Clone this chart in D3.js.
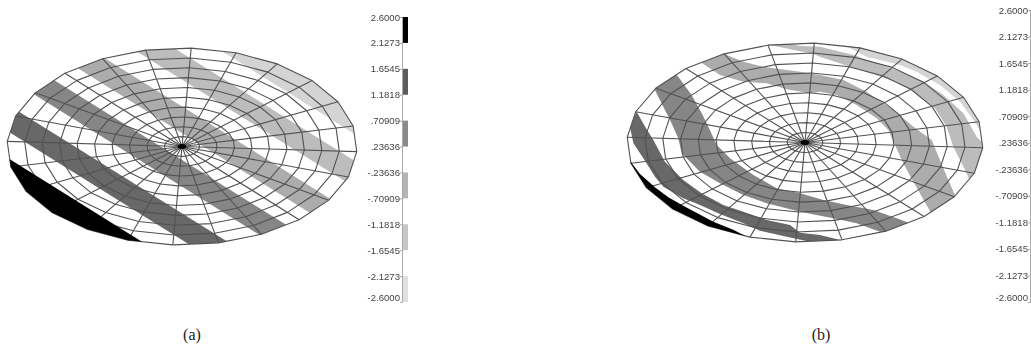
<!DOCTYPE html>
<html lang="en">
<head>
    <meta charset="UTF-8">
    <title>Disk contour plots</title>
    <script src="https://d3js.org/d3.v7.min.js"></script>
    <style>
        html, body { margin: 0; padding: 0; background: #fff; overflow: hidden; }
        svg { display: block; }
        .mesh { fill: none; stroke: #525252; stroke-width: 1.1; stroke-linejoin: round; }
        .bar-axis text { font-family: "Liberation Sans", sans-serif; font-size: 9.6px; fill: #444; }
        .bar-axis line, .bar-axis path { stroke: #aaa; }
        .caption { font-family: "Liberation Serif", serif; font-size: 16px; fill: #222; text-anchor: middle; }
    </style>
</head>
<body>
    <svg width="1031" height="352"></svg>

    <script>
      const levels = [2.6, 2.1273, 1.6545, 1.1818, 0.70909, 0.23636, -0.23636, -0.70909, -1.1818, -1.6545, -2.1273, -2.6];
      const levelLabels = ["2.6000", "2.1273", "1.6545", "1.1818", ".70909", ".23636", "-.23636", "-.70909", "-1.1818", "-1.6545", "-2.1273", "-2.6000"];
      // colour bands of the bar, as pairs of level values
      const barBands = [[2.6, 2.1273], [1.6545, 1.1818], [0.70909, 0.23636], [-0.23636, -0.70909], [-1.1818, -1.6545], [-2.1273, -2.6]];
      const barColors = ["#000000", "#5c5c5c", "#8a8a8a", "#b4b4b4", "#c6c6c6", "#e0e0e0"];
      // the same bands look a little different on the disk
      const diskColors = ["#000000", "#686868", "#868686", "#acacac", "#bcbcbc", "#d4d4d4"];

      // mesh of the disk: ring radii and spoke angles (degrees), pole blob radius
      const ringRadii = [0.1, 0.2, 0.3, 0.4, 0.5, 0.6, 0.7, 0.8, 0.9, 1];
      const spokeAngles = [-3, 12, 27, 42, 57, 72, 87, 102, 117, 132, 147, 162, 177, 192, 207, 222, 237, 252, 267, 282, 297, 312, 327, 342];
      const poleRadius = 0.025;

      // contour regions, in disk units (v points down the page)
      const bandsA = [
          [[0.264, 1.513], [-1.478, -0.417], [-1.761, -0.161], [-0.019, 1.769]],
          [[0.534, 1.27], [-1.208, -0.66], [-1.343, -0.539], [0.399, 1.391]],
          [[0.804, 1.026], [-0.938, -0.904], [-1.073, -0.782], [0.669, 1.148]],
          [[1.073, 0.782], [-0.669, -1.148], [-0.804, -1.026], [0.938, 0.904]],
          [[1.343, 0.539], [-0.399, -1.391], [-0.534, -1.27], [1.208, 0.66]],
          [[1.761, 0.161], [0.019, -1.769], [-0.264, -1.513], [1.478, 0.417]]
      ];
      const bandsB = [
          [[-0.987, 0.176], [-1.05, 0.2], [-0.75, 0.75], [-0.35, 1.05], [-0.3, 0.973],
           [-0.403, 0.876], [-0.515, 0.796], [-0.684, 0.635], [-0.768, 0.551], [-0.843, 0.451], [-0.927, 0.317]],
          [[-0.946, -0.31], [-0.983, -0.152], [-0.964, 0.008], [-0.908, 0.159], [-0.843, 0.343], [-0.796, 0.444], [-0.684, 0.561], [-0.59, 0.628], [-0.478, 0.719],
           [-0.346, 0.812], [-0.253, 0.886], [-0.103, 0.946], [0.028, 0.997], [0.215, 0.987], [0.084, 0.93], [-0.028, 0.906], [-0.084, 0.829], [-0.215, 0.779],
           [-0.346, 0.695], [-0.459, 0.628], [-0.581, 0.511], [-0.684, 0.377], [-0.787, 0.193], [-0.852, -0.025], [-0.893, -0.142]],
          [[-0.9, -0.62], [-0.843, -0.528], [-0.796, -0.36], [-0.758, -0.226], [-0.712, -0.042], [-0.693, 0.109], [-0.59, 0.293], [-0.478, 0.41], [-0.346, 0.528],
           [-0.215, 0.611], [-0.028, 0.695], [0.159, 0.762], [0.29, 0.812], [0.421, 0.896], [0.47, 1], [0.7, 0.95], [0.59, 0.812], [0.515, 0.762], [0.384, 0.678],
           [0.234, 0.628], [0.103, 0.578], [-0.028, 0.511], [-0.159, 0.461], [-0.29, 0.327], [-0.421, 0.159], [-0.496, 0.025], [-0.543, -0.159], [-0.58, -0.293],
           [-0.637, -0.477], [-0.712, -0.662], [-0.76, -0.74]],
          [[-0.62, -0.86], [-0.571, -0.789], [-0.478, -0.678], [-0.346, -0.611], [-0.215, -0.595], [-0.103, -0.535], [0.028, -0.494], [0.084, -0.511], [0.178, -0.477],
           [0.29, -0.377], [0.403, -0.243], [0.468, -0.126], [0.506, 0.025], [0.552, 0.209], [0.609, 0.394], [0.693, 0.662], [0.72, 0.76], [0.88, 0.66], [0.848, 0.551],
           [0.805, 0.377], [0.758, 0.176], [0.712, -0.025], [0.609, -0.159], [0.496, -0.327], [0.346, -0.511], [0.215, -0.628], [0.084, -0.678], [-0.028, -0.712],
           [-0.103, -0.729], [-0.234, -0.762], [-0.346, -0.812], [-0.44, -0.879], [-0.48, -0.95]],
          [[-0.2, -1.03], [-0.197, -0.98], [0.047, -0.889], [0.084, -0.862], [0.253, -0.762], [0.506, -0.612], [0.609, -0.511], [0.73, -0.343], [0.796, -0.159],
           [0.833, 0.042], [0.871, 0.176], [0.908, 0.31], [0.93, 0.4], [1.05, 0.1], [0.964, -0.059], [0.89, -0.293], [0.777, -0.477], [0.665, -0.612], [0.534, -0.712],
           [0.403, -0.796], [0.272, -0.88], [0.084, -0.963], [-0.028, -0.97], [-0.075, -0.99], [-0.08, -1.05]],
          [[0.2, -1], [0.346, -0.863], [0.534, -0.779], [0.627, -0.712], [0.758, -0.578], [0.871, -0.41], [0.946, -0.226], [0.993, -0.092], [1.1, -0.1], [1.1, -0.6], [0.7, -1], [0.3, -1.1]]
      ];

      const svg = d3.select("svg");

      function drawPanel(id, box, bands, bar, caption) {
          const x = d3.scaleLinear().domain([-1, 1]).range([box.left, box.right]);
          const y = d3.scaleLinear().domain([-1, 1]).range([box.top, box.bottom]);
          const ringLine = d3.line().curve(d3.curveLinearClosed);

          // a ring of the mesh as screen points
          const ringPoints = r => spokeAngles.map(a => [
              x(r * Math.cos(a * Math.PI / 180)),
              y(-r * Math.sin(a * Math.PI / 180))
          ]);
          const bandPath = d => ringLine(d.map(p => [x(p[0]), y(p[1])]));

          svg.append("clipPath").attr("id", "rim-" + id)
              .append("path").attr("d", ringLine(ringPoints(1)));

          const g = svg.append("g").style("filter", "blur(0.55px)");

          // grey bands go under the mesh, cut off at the rim
          g.selectAll(".band")
              .data(bands.slice(1))
              .enter().append("path")
              .attr("class", "band")
              .attr("d", bandPath)
              .attr("fill", (d, i) => diskColors[i + 1])
              .attr("clip-path", "url(#rim-" + id + ")");

          g.selectAll(".ring")
              .data(ringRadii)
              .enter().append("path")
              .attr("class", "mesh ring")
              .attr("d", r => ringLine(ringPoints(r)));

          g.selectAll(".spoke")
              .data(spokeAngles)
              .enter().append("line")
              .attr("class", "mesh spoke")
              .attr("x1", x(0))
              .attr("y1", y(0))
              .attr("x2", a => x(Math.cos(a * Math.PI / 180)))
              .attr("y2", a => y(-Math.sin(a * Math.PI / 180)));

          // the black band hides the mesh under it
          g.append("path")
              .attr("d", bandPath(bands[0]))
              .attr("fill", diskColors[0])
              .attr("clip-path", "url(#rim-" + id + ")");

          g.append("path")
              .attr("d", ringLine(ringPoints(poleRadius)))
              .attr("fill", "#000");

          // colour bar
          const barScale = d3.scaleLinear().domain([2.6, -2.6]).range([bar.top, bar.bottom]);
          const b = svg.append("g").style("filter", "blur(0.4px)");
          b.selectAll(".bar-cell")
              .data(barBands)
              .enter().append("rect")
              .attr("class", "bar-cell")
              .attr("x", bar.x)
              .attr("width", bar.width)
              .attr("y", d => barScale(d[0]))
              .attr("height", d => barScale(d[1]) - barScale(d[0]))
              .attr("fill", (d, i) => barColors[i]);

          const axis = d3.axisLeft(barScale)
              .tickValues(levels)
              .tickFormat((d, i) => levelLabels[i])
              .tickSize(2)
              .tickPadding(0);
          const ax = b.append("g")
              .attr("class", "bar-axis")
              .attr("transform", `translate(${bar.x},0)`)
              .call(axis);
          // the last label is lifted off its tick in the original
          ax.selectAll(".tick text").filter((d, i) => i === levels.length - 1).attr("dy", "-0.2em");

          svg.append("text").attr("class", "caption")
              .attr("x", caption.x)
              .attr("y", caption.y)
              .text(caption.text);
      }

      drawPanel("a", { left: 7, right: 357, top: 48, bottom: 245 }, bandsA,
          { x: 402, width: 6, top: 17, bottom: 302 }, { x: 192, y: 340, text: "(a)" });
      drawPanel("b", { left: 627, right: 983, top: 43, bottom: 242 }, bandsB,
          { x: 1030, width: 6, top: 10, bottom: 302 }, { x: 821, y: 340, text: "(b)" });
    </script>
</body>
</html>
